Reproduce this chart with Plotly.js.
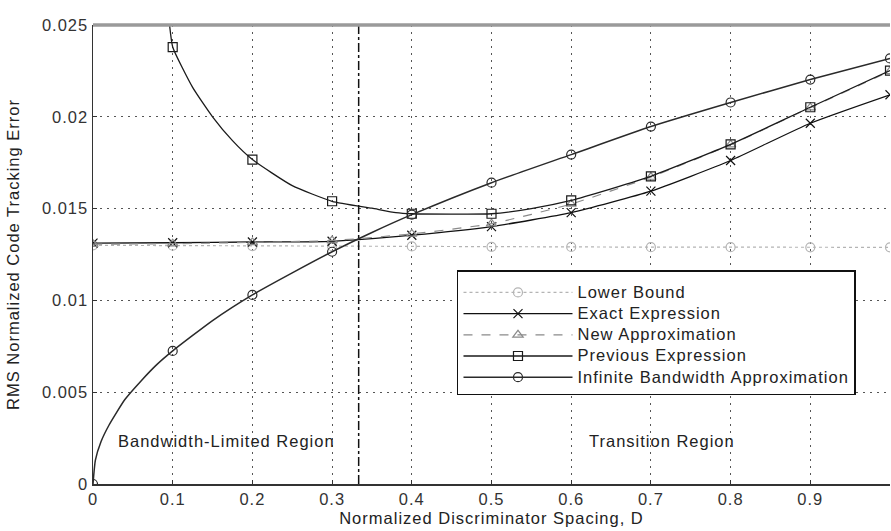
<!DOCTYPE html>
<html><head><meta charset="utf-8">
<script src="https://cdn.plot.ly/plotly-3.0.1.min.js"></script>
<style>
html,body{margin:0;padding:0;background:#fff}
svg text{letter-spacing:1px}
.legendtext{font-size:16.5px !important}
</style>
</head><body><div id="chart" style="width:891px;height:531px"></div>
<script>
// ---- data ----
const tickD = [0,0.1,0.2,0.3,0.4,0.5,0.6,0.7,0.8,0.9,1];
const tickDLabels = ['0','0.1','0.2','0.3','0.4','0.5','0.6','0.7','0.8','0.9','1'];
const tickErr = [0,0.005,0.01,0.015,0.02,0.025];
const tickErrLabels = ['0','0.005','0.01','0.015','0.02','0.025'];
const markerD = [0,0.1,0.2,0.3,0.4,0.5,0.6,0.7,0.8,0.9,1];
const regionBoundaryD = 1/3;

const lowerD   = [0,0.1,0.2,0.3,0.4,0.5,0.6,0.7,0.8,0.9,1];
const lowerErr = [0.01300,0.01298,0.01296,0.01295,0.01294,0.01292,0.01291,0.01290,0.01290,0.01289,0.01289];

const exactD   = [0,0.1,0.2,0.3,0.4,0.5,0.6,0.7,0.8,0.9,1];
const exactErr = [0.01312,0.01314,0.01318,0.01322,0.01355,0.01402,0.01478,0.01595,0.01762,0.01965,0.02120];

const newD   = [0,0.1,0.2,0.3,0.4,0.5,0.6,0.7,0.8,0.9,1];
const newErr = [0.01306,0.01309,0.01316,0.01326,0.01362,0.01418,0.01525,0.01672,0.01848,0.02050,0.02248];

const prevD   = [0.09,0.095,0.1,0.125,0.15,0.175,0.2,0.25,0.3,0.35,0.38,0.4,0.5,0.55,0.6,0.65,0.7,0.8,0.9,1];
const prevErr = [0.0270,0.0254,0.0238,0.0216,0.0200,0.0187,0.01767,0.01625,0.0154,0.01502,0.01478,0.01472,0.01472,0.01500,0.01545,0.01608,0.01676,0.01850,0.02052,0.02252];

const infD   = [0,0.003,0.01,0.02,0.04,0.06,0.08,0.1,0.15,0.2,0.25,0.3,0.35,0.4,0.5,0.6,0.7,0.8,0.9,1];
const infErr = [0,0.0013,0.0023,0.0032,0.0046,0.0056,0.0065,0.00725,0.0089,0.0103,0.0115,0.01265,0.0137,0.01467,0.01641,0.01794,0.01947,0.02078,0.02203,0.02318];

const seriesNames = ['Lower Bound','Exact Expression','New Approximation','Previous Expression','Infinite Bandwidth Approximation'];
const regionLabels = ['Bandwidth-Limited Region','Transition Region'];
const regionLabelD = [0.168, 0.714];
const regionLabelErr = [0.00235, 0.00235];

// ---- styles ----
const FONT = 'Liberation Sans, Arial, Helvetica, sans-serif';
const styles = [
  {x: lowerD, y: lowerErr, color:'#b4b4b4', dash:'dot',   width:1.2, symbol:'circle-open', shape:'linear'},
  {x: exactD, y: exactErr, color:'#111111', dash:'solid', width:1.3, symbol:'x-thin-open', shape:'spline'},
  {x: newD,   y: newErr,   color:'#8a8a8a', dash:'dash',  width:1.2, symbol:'triangle-up-open', shape:'spline'},
  {x: prevD,  y: prevErr,  color:'#1a1a1a', dash:'solid', width:1.3, symbol:'square-open', shape:'spline'},
  {x: infD,   y: infErr,   color:'#2a2a2a', dash:'solid', width:1.5, symbol:'circle-open', shape:'spline'}
];

const traces = [];
styles.forEach((s, i) => {
  traces.push({type:'scatter', mode:'lines', x:s.x, y:s.y, showlegend:false, hoverinfo:'skip',
    line:{color:s.color, dash:s.dash, width:s.width, shape:s.shape, smoothing:0.5}});
  const mx = markerD.filter(d => s.x.indexOf(d) >= 0);
  const my = mx.map(d => s.y[s.x.indexOf(d)]);
  traces.push({type:'scatter', mode:'markers', x:mx, y:my, showlegend:false,
    marker:{symbol:s.symbol, size:9, color:s.color, line:{color:s.color, width:1.2}}});
});
styles.forEach((s, i) => {
  traces.push({type:'scatter', mode:'lines+markers', x:[null], y:[null], name:seriesNames[i],
    line:{color:s.color, dash:s.dash, width:s.width},
    marker:{symbol:s.symbol, size:9, color:s.color, line:{color:s.color, width:1.2}}});
});

const griddash = '2px,5px';
const layout = {
  width:891, height:531,
  margin:{l:93, r:1, t:25, b:47},
  paper_bgcolor:'#fff', plot_bgcolor:'#fff',
  font:{family:FONT, size:16.5, color:'#222'},
  showlegend:true,
  legend:{x:0.4567, y:0.466, xanchor:'left', yanchor:'top', bgcolor:'#fff',
    bordercolor:'#111', borderwidth:1.5, font:{size:14, color:'#222'}, itemwidth:109,
    tracegroupgap:0, title:{text:' ', font:{size:4}}},
  xaxis:{range:[0,1], tickvals:tickD, ticktext:tickDLabels, showgrid:true,
    gridcolor:'#555', griddash:griddash, gridwidth:1, zeroline:false,
    showline:true, linecolor:'#333', linewidth:1.5, mirror:false,
    ticks:'inside', ticklen:4, tickcolor:'#333',
    tickfont:{size:16.5, color:'#333'},
    title:{text:'Normalized Discriminator Spacing, D', font:{size:16.5, color:'#222'}, standoff:5}},
  yaxis:{range:[0,0.025], tickvals:tickErr, ticktext:tickErrLabels, showgrid:true,
    gridcolor:'#555', griddash:griddash, gridwidth:1, zeroline:false,
    showline:true, linecolor:'#333', linewidth:1.5,
    ticks:'inside', ticklen:4, tickcolor:'#333',
    tickfont:{size:16.5, color:'#333'},
    title:{text:'RMS Normalized Code Tracking Error', font:{size:16.5, color:'#222'}, standoff:18}},
  shapes:[
    {type:'line', xref:'x', yref:'paper', x0:regionBoundaryD, x1:regionBoundaryD, y0:0, y1:1,
      line:{color:'#111', width:1.5, dash:'dashdot'}},
    {type:'line', xref:'paper', yref:'paper', x0:0, x1:1, y0:1, y1:1,
      line:{color:'#9a9a9a', width:3.5}}
  ],
  annotations: regionLabels.map((t, i) => ({x:regionLabelD[i], y:regionLabelErr[i], xref:'x', yref:'y',
    text:t, showarrow:false, font:{size:16.5, color:'#222'}}))
};

Plotly.newPlot('chart', traces, layout, {displayModeBar:false, staticPlot:true});
</script>
</body></html>
